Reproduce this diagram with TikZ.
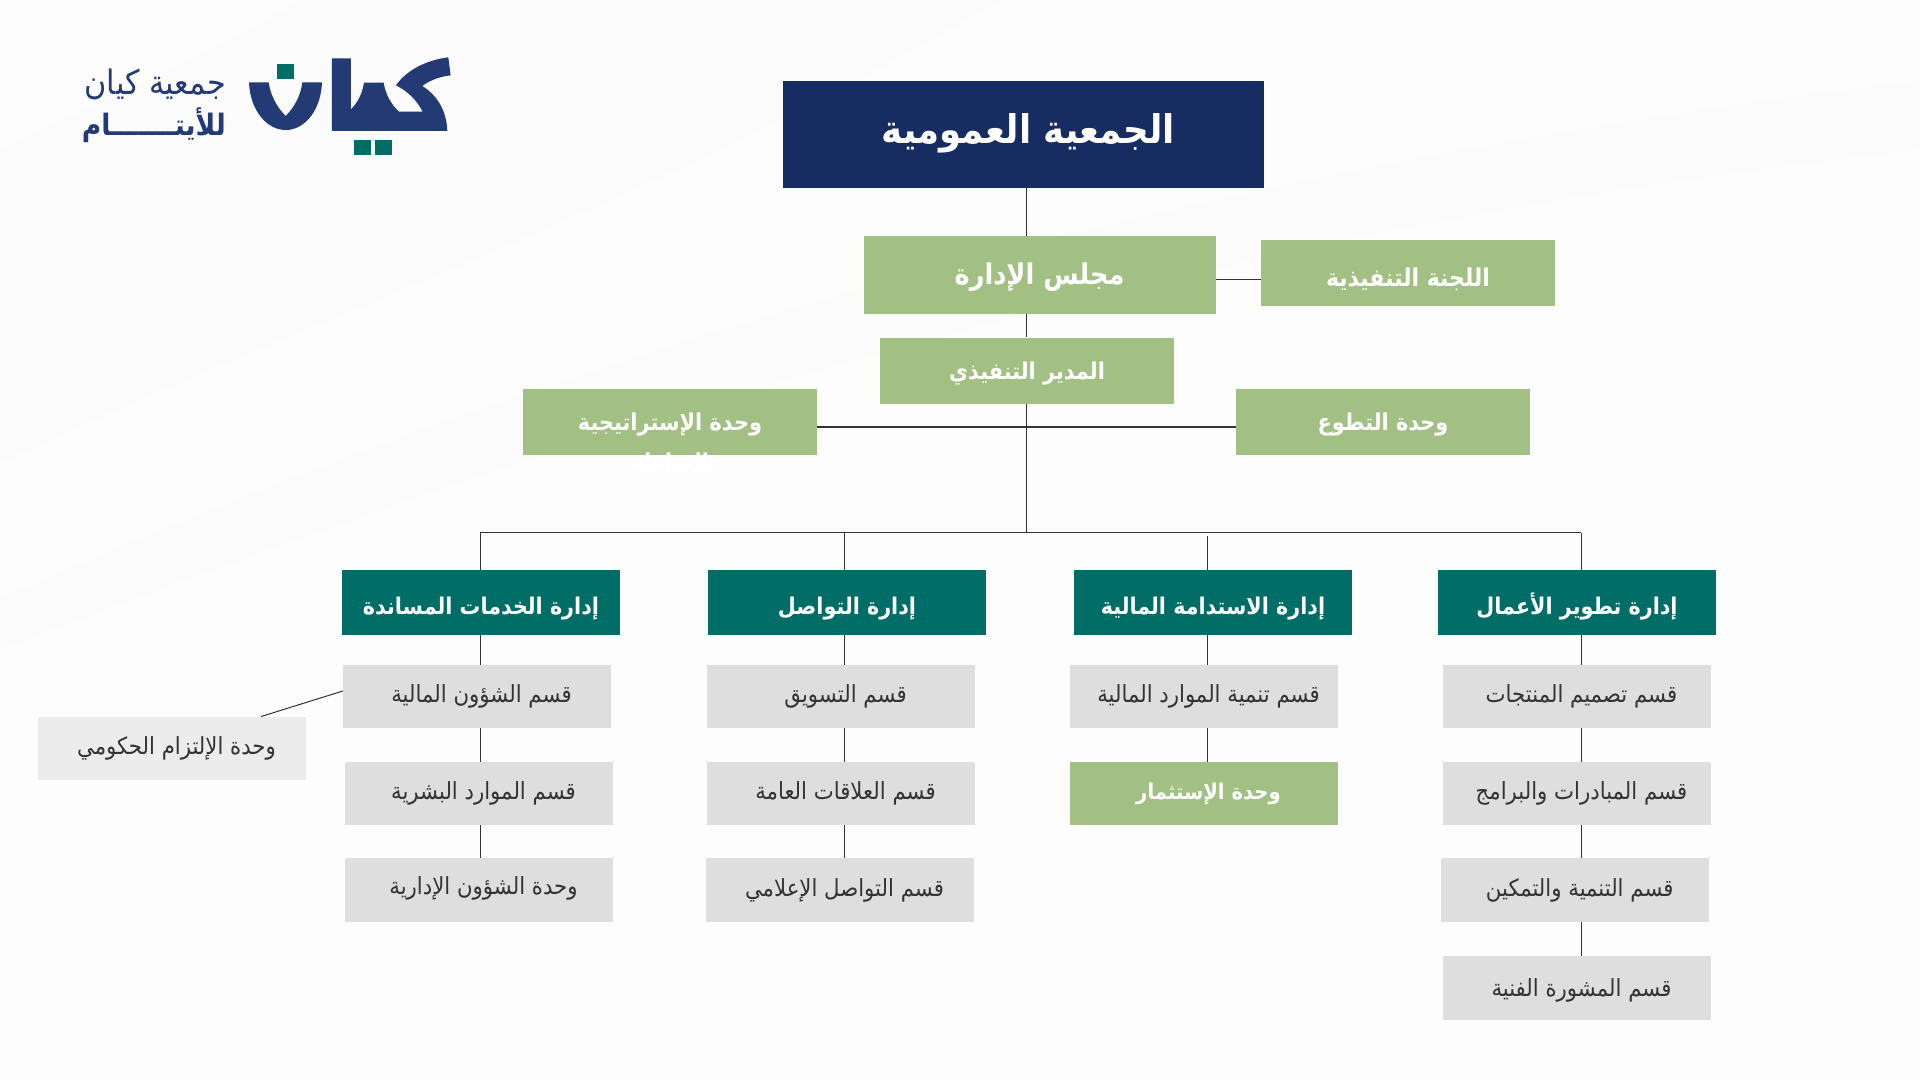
\documentclass[tikz,border=0pt]{standalone}
\usepackage{fontspec}
\usepackage{tikz}
\TeXXeTstate=1
\newfontfamily\arabicfont[Script=Arabic,FakeStretch=0.9]{DejaVu Sans}
\newcommand{\ar}[1]{\beginR #1\endR}
\definecolor{navybox}{HTML}{172C60}
\definecolor{logoblue}{HTML}{233A75}
\definecolor{greenbox}{HTML}{A2C083}
\definecolor{tealbox}{HTML}{006D66}
\definecolor{graybox}{HTML}{DEDEDE}
\definecolor{palebox}{HTML}{ECECEC}
\definecolor{inkline}{HTML}{333333}
\definecolor{pagebg}{HTML}{FDFDFD}
\definecolor{streak}{HTML}{FBFBFB}
\tikzset{
    orgbox/.style={rectangle,inner sep=0pt},
    topbox/.style={orgbox,fill=navybox,text=white,minimum width=480.5pt,minimum height=107pt,
        text height=32pt,text depth=14pt,execute at begin node=\hspace*{10pt},
        font=\arabicfont\bfseries\fontsize{39.5}{46}\selectfont},
    boardbox/.style={orgbox,fill=greenbox,text=white,minimum width=352pt,minimum height=78pt,
        text height=29pt,text depth=10pt,
        font=\arabicfont\bfseries\fontsize{28.5}{34}\selectfont},
    greenunit/.style={orgbox,fill=greenbox,text=white,minimum width=294pt,minimum height=66pt,
        text height=25pt,text depth=8pt,
        font=\arabicfont\bfseries\fontsize{23.2}{40}\selectfont},
    deptbox/.style={orgbox,fill=tealbox,text=white,minimum width=278pt,minimum height=65pt,
        text height=33pt,text depth=9pt,
        font=\arabicfont\bfseries\fontsize{23}{28}\selectfont},
    secbox/.style={orgbox,fill=graybox,text=black!80,minimum width=268pt,minimum height=63.5pt,
        text height=20pt,text depth=8pt,
        font=\arabicfont\fontsize{23.6}{28}\selectfont,execute at begin node=\hspace*{9pt}},
    secgreen/.style={secbox,fill=greenbox,text=white,font=\arabicfont\bfseries\fontsize{21.8}{26}\selectfont},
    link/.style={draw=inkline,line width=1pt},
    logotxt/.style={anchor=east,inner sep=0pt,text=logoblue,font=\arabicfont\fontsize{33.7}{38}\selectfont}
}
\begin{document}
\begin{tikzpicture}[x=1pt,y=-1pt]
    \useasboundingbox (0,0) rectangle (1920,1080);
    \fill[pagebg] (0,0) rectangle (1920,1080);
    % faint streaks of the page
    \fill[streak] (0,464) .. controls (300,320) and (650,210) .. (1000,0) -- (300,0) .. controls (200,60) and (80,110) .. (0,150) -- cycle;
    \fill[streak] (0,598) .. controls (500,380) and (1100,180) .. (1920,80) -- (1920,150) .. controls (1200,230) and (600,420) .. (0,650) -- cycle;
    % logo
    \begin{scope}[shift={(240,50)},x=0.3333pt,y=-0.3333pt]
        \fill[logoblue] (27,97) .. controls (30,180) and (80,240) .. (137,240)
            .. controls (195,240) and (243,180) .. (246,97) -- (187,97)
            .. controls (182,140) and (160,175) .. (137,198)
            .. controls (114,175) and (92,140) .. (86,97) -- cycle;
        \fill[logoblue] (276,25) -- (333,25) -- (333,178)
            .. controls (355,155) and (367,130) .. (372,98) -- (431,98)
            .. controls (437,135) and (455,165) .. (477,185) -- (548,185)
            .. controls (530,150) and (505,125) .. (468,106)
            .. controls (500,60) and (560,30) .. (625,22) -- (632,76)
            .. controls (600,80) and (570,90) .. (547,108)
            .. controls (590,135) and (620,180) .. (622,243) -- (276,243) -- cycle;
        \fill[tealbox] (111,41) rectangle (163,87);
        \fill[tealbox] (343,270) rectangle (393,315);
        \fill[tealbox] (406,270) rectangle (457,315);
    \end{scope}
    \node[logotxt] (logoname) at (226,84) {\ar{جمعية كيان}};
    \node[logotxt,font=\arabicfont\bfseries\fontsize{29.5}{36}\selectfont] (logoorph) at (226,125) {\ar{للأيتـــــــام}};
    % head of the chart
    \node[topbox] (top) at (1023.3,134.5) {\ar{الجمعية العمومية}};
    \node[boardbox] (board) at (1039.5,275) {\ar{مجلس الإدارة}};
    \node[greenunit,text height=35pt,font=\arabicfont\bfseries\fontsize{24.5}{40}\selectfont] (execom) at (1408,273) {\ar{اللجنة التنفيذية}};
    \node[greenunit] (ceo) at (1027,370.5) {\ar{المدير التنفيذي}};
    \node[greenunit] (strategy) at (670,422) {\begin{tabular}[t]{@{}c@{}}\ar{وحدة الإستراتيجية}\\\ar{الشاملة}\end{tabular}};
    \node[greenunit] (volunteer) at (1383,422) {\ar{وحدة التطوع}};
    % departments
    \foreach \name/\x/\txt in {services/481/إدارة الخدمات المساندة,comm/847/إدارة التواصل,finance/1213/إدارة الاستدامة المالية,bizdev/1577/إدارة تطوير الأعمال} {
        \node[deptbox] (\name) at (\x,602.5) {\ar{\txt}};
    }
    % sections
    \foreach \name/\x/\y/\txt in {
        finsec/477/696.5/قسم الشؤون المالية,
        hrsec/479/793.5/قسم الموارد البشرية,
        marksec/841/696.5/قسم التسويق,
        prsec/841/793.5/قسم العلاقات العامة,
        mediasec/840/890/قسم التواصل الإعلامي,
        fundsec/1204/696.5/قسم تنمية الموارد المالية,
        prodsec/1577/696.5/قسم تصميم المنتجات,
        initsec/1577/793.5/قسم المبادرات والبرامج,
        growsec/1575.3/890/قسم التنمية والتمكين} {
        \node[secbox] (\name) at (\x,\y) {\ar{\txt}};
    }
    \node[secbox,text height=25pt] (advsec) at (1577,988) {\ar{قسم المشورة الفنية}};
    \node[secbox,text depth=12pt] (adminunit) at (479,890) {\ar{وحدة الشؤون الإدارية}};
    \node[secbox,fill=palebox] (gov) at (172,748.5) {\ar{وحدة الإلتزام الحكومي}};
    \node[secgreen] (invest) at (1204,793.5) {\ar{وحدة الإستثمار}};
    % connectors
    \coordinate (trunk) at (1026,532.5);
    \coordinate (boardtie) at (1240,279);
    \coordinate (unittie) at (1026,427);
    \coordinate (buswest) at (480,532.5);
    \coordinate (buseast) at (1581,532.5);
    \coordinate (colcomm) at (844,536);
    \coordinate (colfin) at (1207.5,536);
    \coordinate (govtie) at (261,691);
    \draw[link] (top.south -| trunk) -- (board.north -| trunk);
    \draw[link] (board.south -| trunk) -- (ceo.north -| trunk);
    \draw[link] (ceo.south -| trunk) -- (trunk);
    \draw[link] (board.east |- boardtie) -- (execom.west |- boardtie);
    \draw[link,line width=1.4pt] (strategy.east |- unittie) -- (volunteer.west |- unittie);
    \draw[link,line width=1.4pt] (buswest) -- (buseast);
    \draw[link] (buswest) -- (services.north -| buswest);
    \draw[link] (colcomm |- buswest) -- (comm.north -| colcomm);
    \draw[link] (colfin) -- (finance.north -| colfin);
    \draw[link] (buseast) -- (bizdev.north -| buseast);
    \foreach \upper/\lower/\col in {services/finsec/buswest,finsec/hrsec/buswest,hrsec/adminunit/buswest,
        comm/marksec/colcomm,marksec/prsec/colcomm,prsec/mediasec/colcomm,
        finance/fundsec/colfin,fundsec/invest/colfin,
        bizdev/prodsec/buseast,prodsec/initsec/buseast,initsec/growsec/buseast,growsec/advsec/buseast} {
        \draw[link] (\upper.south -| \col) -- (\lower.north -| \col);
    }
    \draw[link] (gov.north -| govtie) -- (finsec.west |- govtie);
\end{tikzpicture}
\end{document}
